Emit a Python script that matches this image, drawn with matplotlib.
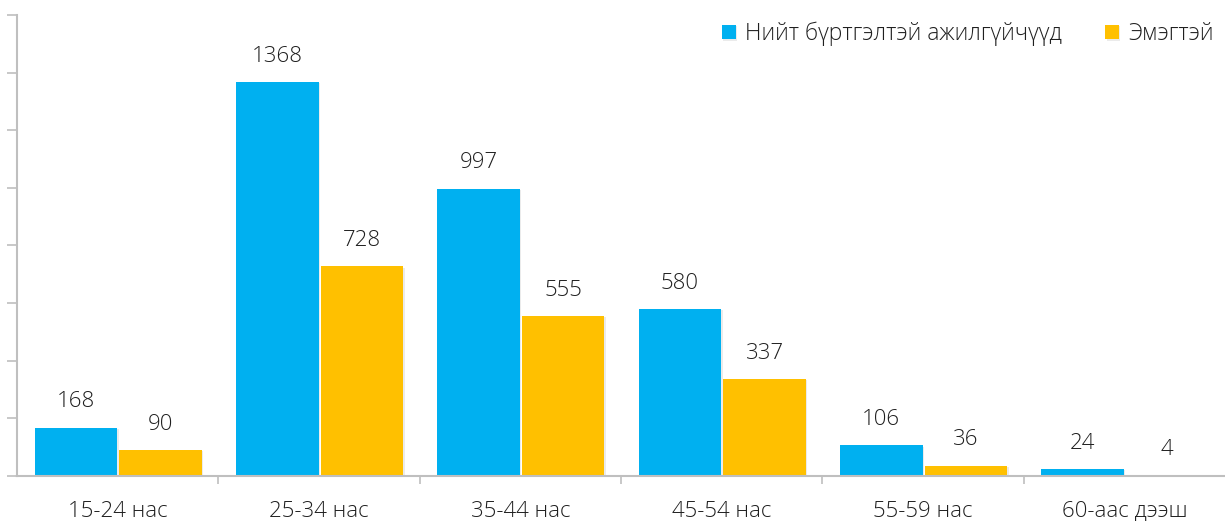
import matplotlib.pyplot as plt
import matplotlib.patheffects as pe
import numpy as np

plt.rcParams['font.family'] = ['Open Sans', 'DejaVu Sans']
plt.rcParams['font.weight'] = 'light'

categories = ['15-24 нас', '25-34 нас', '35-44 нас', '45-54 нас', '55-59 нас', '60-аас дээш']
total = [168, 1368, 997, 580, 106, 24]
women = [90, 728, 555, 337, 36, 4]
series_names = ['Нийт бүртгэлтэй ажилгүйчүүд', 'Эмэгтэй']

blue = '#00B0F0'
yellow = '#FFC000'
axis_gray = '#BFBFBF'
text_col = '#1F1F1F'

fig = plt.figure(figsize=(12.25, 5.21), dpi=100)
ax = fig.add_axes([17 / 1225, 1 - 476 / 521, 1 - 17 / 1225, (476 - 15) / 521])

x = np.arange(len(categories))
w = 0.41
shadow = [pe.SimplePatchShadow(offset=(1, -1), shadow_rgbFace='#000000', alpha=0.08), pe.Normal()]
b1 = ax.bar(x - 0.207, total, w, color=blue, label=series_names[0], path_effects=shadow)
b2 = ax.bar(x + 0.213, women, w, color=yellow, label=series_names[1], path_effects=shadow)

for bars in (b1, b2):
    for rect in bars:
        ax.annotate(str(int(rect.get_height())),
                    (rect.get_x() + rect.get_width() / 2, rect.get_height()),
                    xytext=(0, 11), textcoords='offset points',
                    ha='center', va='bottom', fontsize=16, color=text_col)

ax.set_xlim(-0.5, len(categories) - 0.5)
ax.set_ylim(0, 1600)
ax.set_yticks(np.arange(0, 1601, 200))
ax.set_yticklabels([])
ax.set_xticks(x)
ax.set_xticklabels(categories, fontsize=16, color=text_col)
ax.set_xticks(np.arange(0.5, len(categories) - 0.5, 1), minor=True)
ax.tick_params(axis='x', which='major', length=0, pad=18)
ax.tick_params(axis='x', which='minor', length=6, color=axis_gray, width=1.2, direction='out')
ax.tick_params(axis='y', length=7, color=axis_gray, width=1.2, direction='out')

for s in ('top', 'right'):
    ax.spines[s].set_visible(False)
for s in ('left', 'bottom'):
    ax.spines[s].set_color(axis_gray)
    ax.spines[s].set_linewidth(1.5)

leg = ax.legend(loc='upper right', bbox_to_anchor=(1.0, 1.01), ncol=2, frameon=False,
                fontsize=16.5, handlelength=0.6, handleheight=0.6, handletextpad=0.4,
                columnspacing=1.9, borderaxespad=0.1)
for t in leg.get_texts():
    t.set_color(text_col)

fig.savefig('out.png', dpi=100)
